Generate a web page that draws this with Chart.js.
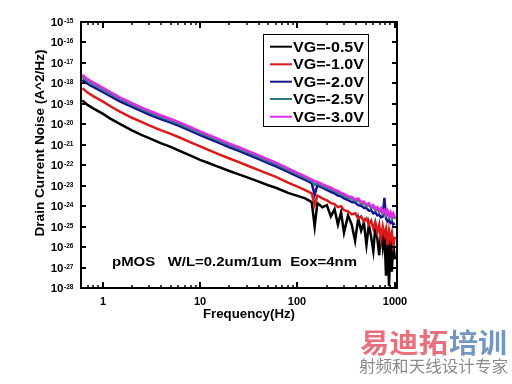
<!DOCTYPE html>
<html>
<head>
<meta charset="utf-8">
<script src="https://cdn.jsdelivr.net/npm/chart.js@4"></script>
<style>
  html, body { margin: 0; padding: 0; background: #fff; }
  #wrap { width: 512px; height: 384px; position: relative; }
</style>
</head>
<body>
<div id="wrap"><canvas id="noiseChart" width="512" height="384"></canvas></div>
<script>
// frequency points (Hz)
const freqHz = [0.62, 0.7, 0.8, 1, 1.2, 1.5, 2, 2.5, 3, 4,
  5, 6, 8, 10, 12, 15, 20, 25, 30, 40,
  50, 60, 80, 100, 120, 140, 150, 160, 180, 200,
  220, 240, 260, 280, 300, 330, 360, 390, 420, 450,
  480, 510, 540, 570, 600, 630, 660, 690, 720, 750,
  780, 810, 840, 870, 900, 930, 960, 1000];

// log10 of drain current noise (A^2/Hz)
const expVG05 = [-18.83, -19.05, -19.22, -19.48, -19.72, -19.98, -20.30, -20.52, -20.68, -20.93,
  -21.10, -21.27, -21.53, -21.74, -21.88, -22.06, -22.28, -22.45, -22.58, -22.80,
  -22.98, -23.10, -23.35, -23.50, -23.62, -23.80, -25.0, -23.85, -24.05, -23.95,
  -24.5, -24.15, -24.9, -24.3, -25.3, -24.45, -24.9, -25.7, -24.6, -25.2,
  -24.8, -25.9, -24.9, -25.5, -26.2, -25.0, -25.6, -26.4, -25.2, -26.0,
  -25.3, -27.4, -25.7, -27.9, -25.4, -27.2, -25.8, -26.6];
const expVG10 = [-18.23, -18.45, -18.62, -18.88, -19.12, -19.38, -19.68, -19.88, -20.05, -20.30,
  -20.47, -20.62, -20.88, -21.08, -21.24, -21.43, -21.67, -21.85, -22.00, -22.24,
  -22.42, -22.57, -22.85, -23.05, -23.22, -23.38, -23.95, -23.48, -23.62, -23.72,
  -23.85, -23.90, -24.05, -24.0, -24.2, -24.25, -24.4, -24.35, -24.6, -24.5,
  -24.75, -24.6, -24.9, -24.7, -25.1, -24.8, -25.3, -24.9, -25.6, -25.0,
  -25.4, -25.1, -25.9, -25.2, -25.6, -25.3, -25.9, -25.5];
const expVG20 = [-17.82, -18.02, -18.17, -18.42, -18.63, -18.88, -19.15, -19.36, -19.52, -19.76,
  -19.92, -20.06, -20.32, -20.53, -20.68, -20.87, -21.12, -21.30, -21.45, -21.70,
  -21.90, -22.05, -22.33, -22.55, -22.72, -22.88, -23.45, -22.98, -23.10, -23.20,
  -23.30, -23.38, -23.48, -23.52, -23.62, -23.70, -23.80, -23.82, -23.95, -23.98,
  -24.08, -24.10, -24.22, -24.20, -24.35, -24.30, -24.45, -24.42, -24.55, -24.50,
  -23.60, -24.60, -24.75, -24.68, -24.82, -24.75, -24.90, -24.85];
const expVG25 = [-17.66, -17.87, -18.03, -18.28, -18.50, -18.76, -19.04, -19.25, -19.41, -19.65,
  -19.82, -19.96, -20.22, -20.43, -20.58, -20.77, -21.02, -21.20, -21.35, -21.60,
  -21.80, -21.95, -22.23, -22.45, -22.62, -22.78, -22.95, -22.90, -23.01, -23.10,
  -23.18, -23.28, -23.33, -23.43, -23.48, -23.60, -23.63, -23.76, -23.70, -23.88,
  -23.86, -24.00, -23.93, -24.10, -24.03, -24.20, -24.13, -24.30, -24.18, -24.38,
  -24.26, -24.46, -24.30, -24.53, -24.38, -24.60, -24.43, -24.63];
const expVG30 = [-17.58, -17.79, -17.95, -18.20, -18.42, -18.68, -18.96, -19.17, -19.33, -19.57,
  -19.74, -19.88, -20.14, -20.35, -20.50, -20.69, -20.94, -21.12, -21.27, -21.52,
  -21.72, -21.87, -22.15, -22.37, -22.54, -22.70, -22.78, -22.82, -22.93, -23.02,
  -23.10, -23.20, -23.25, -23.35, -23.40, -23.52, -23.55, -23.68, -23.62, -23.80,
  -23.78, -23.92, -23.85, -24.02, -23.95, -24.12, -24.05, -24.22, -24.10, -24.30,
  -24.18, -24.38, -24.22, -24.45, -24.30, -24.52, -24.35, -24.55];

const seriesLabels = ["VG=-0.5V", "VG=-1.0V", "VG=-2.0V", "VG=-2.5V", "VG=-3.0V"];
const seriesColors = ["#000000", "#dc1a1a", "#14148c", "#2f7c80", "#e02ce8"];
const seriesExp = [expVG05, expVG10, expVG20, expVG25, expVG30];

// axis ticks
const yDecades = [-28, -27, -26, -25, -24, -23, -22, -21, -20, -19, -18, -17, -16, -15];
const xMajor = [1, 10, 100, 1000];
const xMinor = [0.7, 0.8, 0.9, 2, 3, 4, 5, 6, 7, 8, 9, 20, 30, 40, 50, 60, 70, 80, 90,
  200, 300, 400, 500, 600, 700, 800, 900];

const annotationText = "pMOS   W/L=0.2um/1um  Eox=4nm";
const FONT = "'Liberation Sans', Arial, sans-serif";

function fitText(ctx, text, x, y, w, align) {
  const m = ctx.measureText(text).width;
  ctx.save();
  ctx.translate(x, y);
  ctx.scale(w / m, 1);
  ctx.textAlign = align;
  ctx.fillText(text, 0, 0);
  ctx.restore();
}

const decorPlugin = {
  id: "decor",
  beforeDraw(chart) {
    const ctx = chart.ctx;
    ctx.save();
    ctx.fillStyle = "#fff";
    ctx.fillRect(0, 0, chart.width, chart.height);
    ctx.restore();
  },
  afterDraw(chart) {
    const ctx = chart.ctx;
    const a = chart.chartArea;
    const xs = chart.scales.x, ys = chart.scales.y;
    ctx.save();

    // frame
    ctx.strokeStyle = "#000";
    ctx.lineWidth = 2;
    ctx.strokeRect(a.left, a.top, a.right - a.left, a.bottom - a.top);

    // y ticks + labels
    ctx.fillStyle = "#000";
    yDecades.forEach(d => {
      const py = Math.round(ys.getPixelForValue(Math.pow(10, d)));
      ctx.beginPath();
      ctx.moveTo(a.left, py); ctx.lineTo(a.left + 5, py);
      ctx.moveTo(a.right, py); ctx.lineTo(a.right - 5, py);
      ctx.stroke();
      ctx.font = "bold 11.5px " + FONT;
      ctx.textAlign = "right";
      ctx.textBaseline = "middle";
      ctx.fillText("10", 63.5, py + 1);
      ctx.font = "bold 6.5px " + FONT;
      ctx.textAlign = "left";
      ctx.textBaseline = "top";
      ctx.fillText(String(d), 64, py - 4);
    });

    // x ticks + labels
    xMajor.forEach(f => {
      const px = Math.round(xs.getPixelForValue(f));
      ctx.beginPath();
      ctx.moveTo(px, a.bottom); ctx.lineTo(px, a.bottom - 6);
      ctx.moveTo(px, a.top); ctx.lineTo(px, a.top + 6);
      ctx.stroke();
      ctx.font = "bold 11px " + FONT;
      ctx.textAlign = "center";
      ctx.textBaseline = "middle";
      ctx.fillText(String(f), px, 302);
    });
    ctx.lineWidth = 1.5;
    xMinor.forEach(f => {
      const px = Math.round(xs.getPixelForValue(f));
      ctx.beginPath();
      ctx.moveTo(px, a.bottom); ctx.lineTo(px, a.bottom - 3);
      ctx.moveTo(px, a.top); ctx.lineTo(px, a.top + 3);
      ctx.stroke();
    });

    // axis titles
    ctx.font = "bold 12px " + FONT;
    ctx.textBaseline = "middle";
    fitText(ctx, "Frequency(Hz)", 249, 315, 92, "center");
    ctx.save();
    ctx.translate(41, 143);
    ctx.rotate(-Math.PI / 2);
    ctx.font = "bold 12.5px " + FONT;
    fitText(ctx, "Drain Current Noise (A^2/Hz)", 0, 0, 187, "center");
    ctx.restore();

    // legend
    ctx.fillStyle = "#fff";
    ctx.fillRect(263, 34, 106, 93);
    ctx.strokeStyle = "#000";
    ctx.lineWidth = 1;
    ctx.strokeRect(263.5, 34.5, 105, 92);
    const rowY = [46.7, 64.3, 81.7, 99, 116.7];
    seriesLabels.forEach((lab, i) => {
      ctx.strokeStyle = seriesColors[i];
      ctx.lineWidth = 2;
      ctx.beginPath();
      ctx.moveTo(270, rowY[i]); ctx.lineTo(292, rowY[i]);
      ctx.stroke();
      ctx.fillStyle = "#000";
      ctx.font = "bold 14px " + FONT;
      ctx.textBaseline = "middle";
      fitText(ctx, lab, 293, rowY[i] + 1, 71, "left");
    });

    // annotation
    ctx.fillStyle = "#000";
    ctx.font = "bold 12.5px " + FONT;
    ctx.textBaseline = "middle";
    fitText(ctx, annotationText, 112, 263, 245, "left");

    // watermark
    ctx.font = "bold 27px 'Noto Sans CJK SC', sans-serif";
    ctx.textBaseline = "middle";
    ctx.fillStyle = "#e8707c";
    fitText(ctx, "易迪拓", 360, 343, 88, "left");
    ctx.fillStyle = "#7497c2";
    fitText(ctx, "培训", 449, 343, 58, "left");
    ctx.fillStyle = "#8a8a8a";
    ctx.font = "16px 'Noto Sans CJK SC', sans-serif";
    fitText(ctx, "射频和天线设计专家", 359, 366, 149, "left");

    ctx.restore();
  }
};

const drawOrder = [5, 4, 3, 2, 1];

new Chart(document.getElementById("noiseChart"), {
  type: "line",
  data: {
    datasets: seriesLabels.map((lab, i) => ({
      label: lab,
      data: freqHz.map((f, j) => ({ x: f, y: Math.pow(10, seriesExp[i][j]) })),
      borderColor: seriesColors[i],
      borderWidth: 2.5,
      pointRadius: 0,
      tension: 0,
      fill: false,
      order: drawOrder[i]
    }))
  },
  options: {
    responsive: false,
    animation: false,
    layout: { padding: { left: 0, top: 22, right: 115, bottom: 0 } },
    plugins: {
      legend: { display: false },
      tooltip: { enabled: false }
    },
    scales: {
      x: {
        type: "logarithmic",
        min: 0.62,
        max: 1050,
        grid: { display: false, drawTicks: false },
        border: { display: false },
        ticks: { display: false },
        afterFit(scale) { scale.height = 96; }
      },
      y: {
        type: "logarithmic",
        min: 1e-28,
        max: 1e-15,
        grid: { display: false, drawTicks: false },
        border: { display: false },
        ticks: { display: false },
        afterFit(scale) { scale.width = 81; }
      }
    }
  },
  plugins: [decorPlugin]
});
</script>
</body>
</html>
